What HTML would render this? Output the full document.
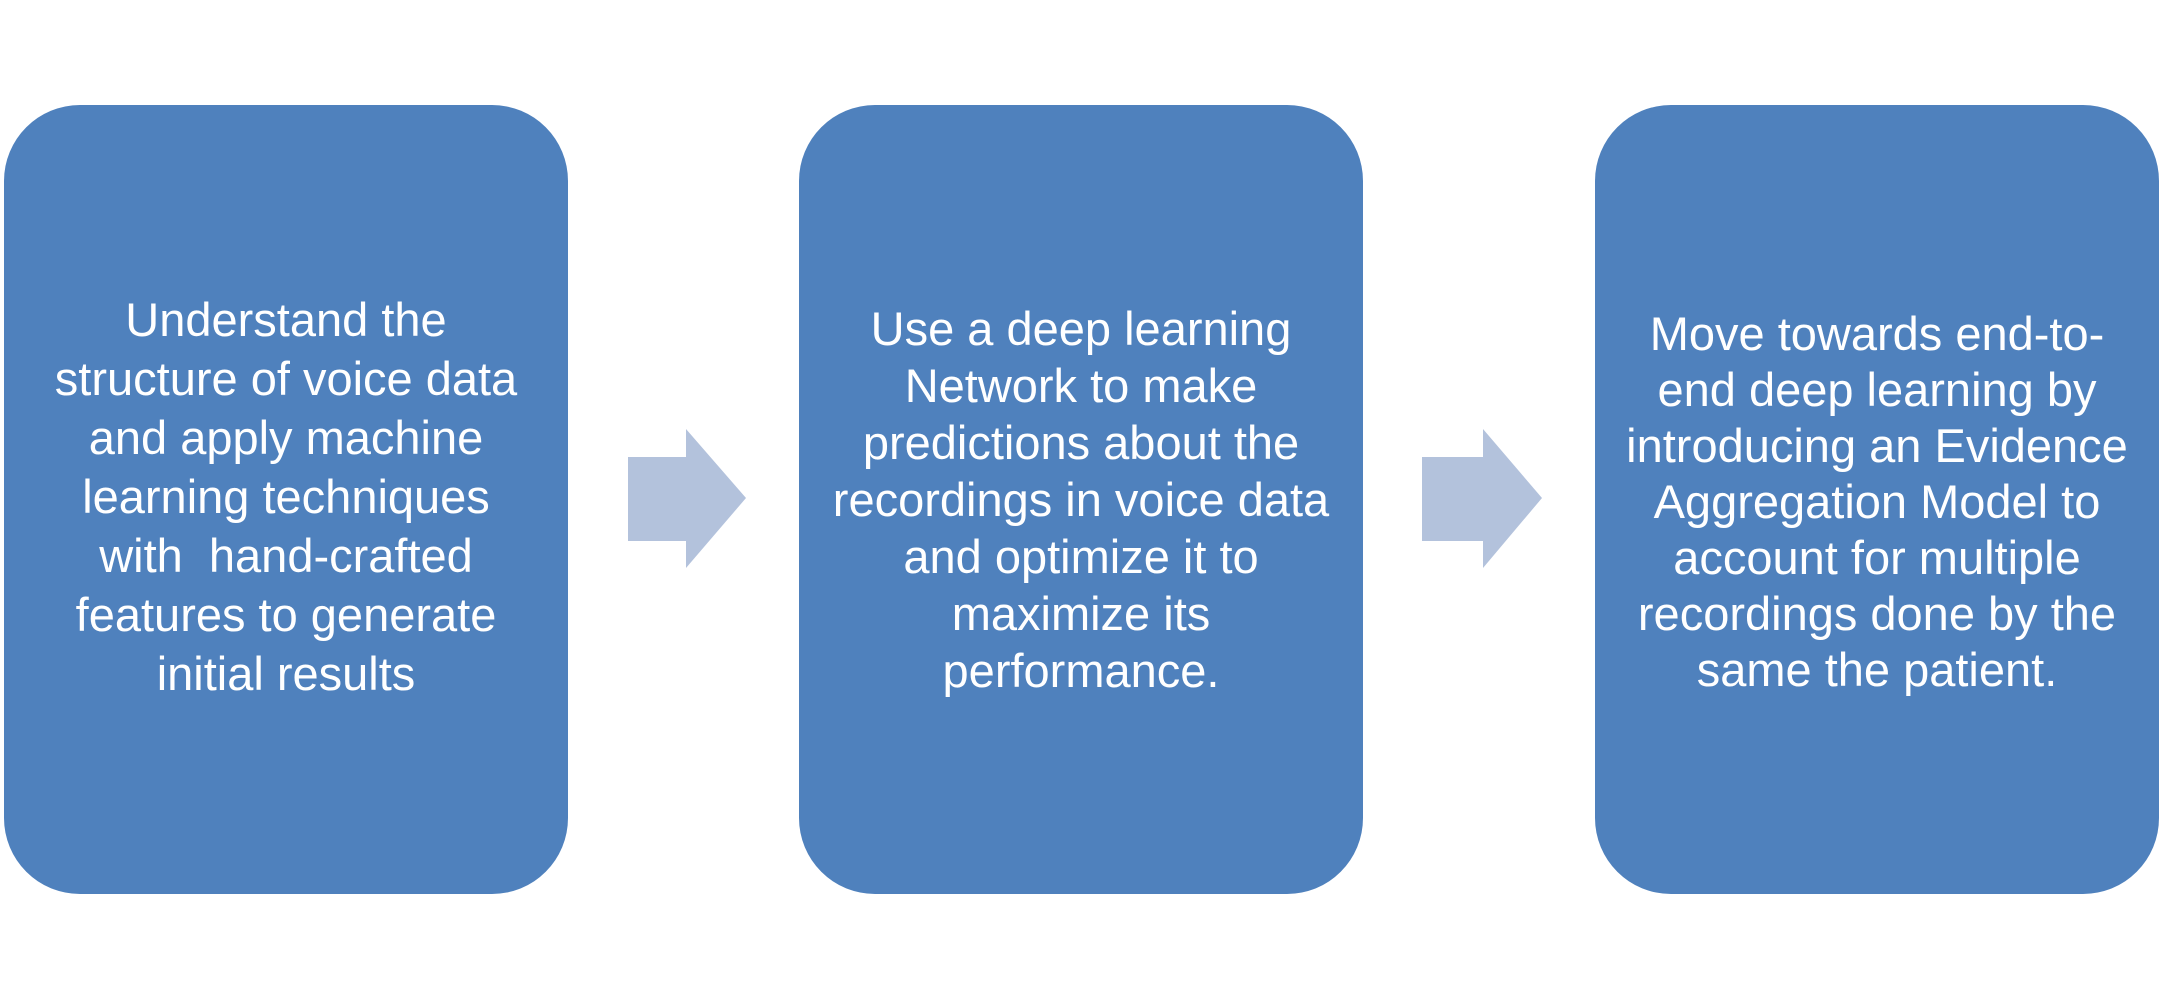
<!DOCTYPE html>
<html><head><meta charset="utf-8"><style>
html,body{margin:0;padding:0;background:#fff;width:2163px;height:1000px;overflow:hidden;}
.box{position:absolute;top:105px;width:564px;height:789px;background:#4f81bd;border-radius:76px;display:flex;align-items:center;justify-content:center;text-align:center;color:#fff;font-family:"Liberation Sans Narrow","Liberation Sans",sans-serif;font-size:47px;line-height:59px;}
.box div{margin-top:-6px;}
svg{position:absolute;left:0;top:0;}
</style></head><body>
<svg width="2163" height="1000">
<polygon points="628,457 686,457 686,429 746,498 686,568 686,541 628,541" fill="#b3c2dc"/>
<polygon points="1422,457 1483,457 1483,429 1542,498 1483,568 1483,541 1422,541" fill="#b3c2dc"/>
</svg>
<div class="box" style="left:4px"><div>Understand the<br>structure of voice data<br>and apply machine<br>learning techniques<br>with&nbsp; hand-crafted<br>features to generate<br>initial results</div></div>
<div class="box" style="left:799px"><div style="line-height:57px;margin-top:0">Use a deep learning<br>Network to make<br>predictions about the<br>recordings in voice data<br>and optimize it to<br>maximize its<br>performance.</div></div>
<div class="box" style="left:1595px"><div style="line-height:56px;margin-top:4px">Move towards end-to-<br>end deep learning by<br>introducing an Evidence<br>Aggregation Model to<br>account for multiple<br>recordings done by the<br>same the patient.</div></div>
</body></html>
